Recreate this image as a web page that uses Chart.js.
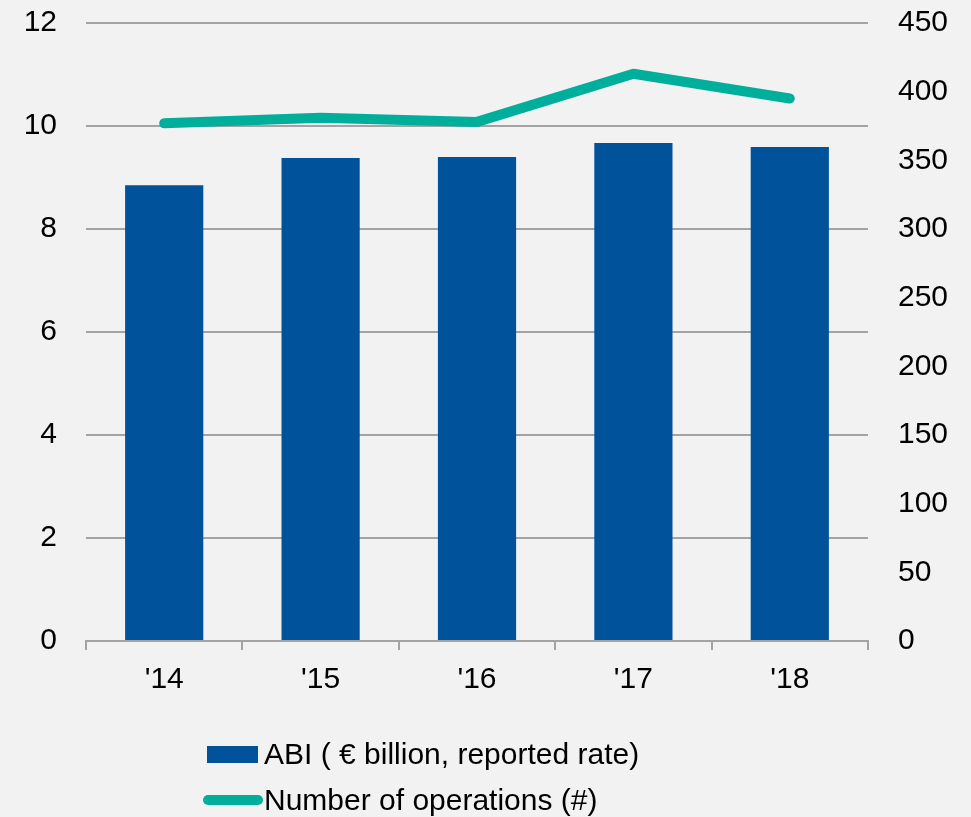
<!DOCTYPE html>
<html>
<head>
<meta charset="utf-8">
<script src="https://cdn.jsdelivr.net/npm/chart.js@4.4.0/dist/chart.umd.min.js"></script>
<style>
html,body{margin:0;padding:0;background:#f2f2f2;}
#wrap{position:relative;width:971px;height:817px;}
#legend{position:absolute;left:203px;top:731px;font-family:"Liberation Sans",Arial,sans-serif;font-size:30px;color:#000;}
.row{display:flex;align-items:center;height:46px;}
.sw{display:inline-block;}
</style>
</head>
<body>
<div id="wrap">
<canvas id="c" width="971" height="817"></canvas>
<div id="legend"></div>
</div>
<script>
// data
const years = ["'14", "'15", "'16", "'17", "'18"]
const abi = [8.85, 9.38, 9.40, 9.67, 9.59]
const operations = [377, 381, 378, 413, 395]
const abiLabel = "ABI ( € billion, reported rate)"
const opsLabel = "Number of operations (#)"

const blue = "#00529b"
const teal = "#00ae9c"
const grey = "#a3a3a3"
const font = {family: "'Liberation Sans', Arial, sans-serif", size: 30}

new Chart(document.getElementById("c"), {
  type: "bar",
  data: {
    labels: years,
    datasets: [
      {
        type: "line",
        label: opsLabel,
        data: operations,
        yAxisID: "y2",
        borderColor: teal,
        backgroundColor: teal,
        borderWidth: 10,
        borderCapStyle: "round",
        borderJoinStyle: "round",
        pointRadius: 0,
        tension: 0,
        order: 0
      },
      {
        label: abiLabel,
        data: abi,
        yAxisID: "y",
        backgroundColor: blue,
        barPercentage: 0.5,
        categoryPercentage: 1,
        order: 1
      }
    ]
  },
  options: {
    responsive: false,
    animation: false,
    layout: {padding: {top: 23, left: 0, right: 0, bottom: 0}},
    plugins: {legend: {display: false}, tooltip: {enabled: false}},
    scales: {
      x: {
        grid: {display: true, drawOnChartArea: false, drawTicks: true, tickLength: 9, color: grey, lineWidth: 2},
        border: {display: true, color: grey, width: 2},
        ticks: {font: font, color: "#000", padding: 12},
        afterFit: s => { s.height = 176 }
      },
      y: {
        position: "left",
        min: 0, max: 12,
        // invisible tick marks push the labels away from the plot
        ticks: {stepSize: 2, font: font, color: "#000", padding: 0},
        grid: {color: grey, lineWidth: 2, drawTicks: true, tickLength: 29, tickColor: "rgba(0,0,0,0)"},
        border: {display: false},
        afterFit: s => { s.width = 86 }
      },
      y2: {
        position: "right",
        min: 0, max: 450,
        ticks: {stepSize: 50, font: font, color: "#000", padding: 0},
        grid: {display: true, drawOnChartArea: false, drawTicks: true, tickLength: 30, tickColor: "rgba(0,0,0,0)"},
        border: {display: false},
        afterFit: s => { s.width = 103 }
      }
    }
  }
})

// legend below the chart, two left-aligned rows
let legend = document.getElementById("legend")
legend.innerHTML = `
<div class="row"><span class="sw" style="width:51px;height:17px;background:${blue};margin:0 6px 0 4px"></span>${abiLabel}</div>
<div class="row"><span class="sw" style="width:60px;height:10px;border-radius:5px;background:${teal};margin-right:1px"></span>${opsLabel}</div>
`
</script>
</body>
</html>
